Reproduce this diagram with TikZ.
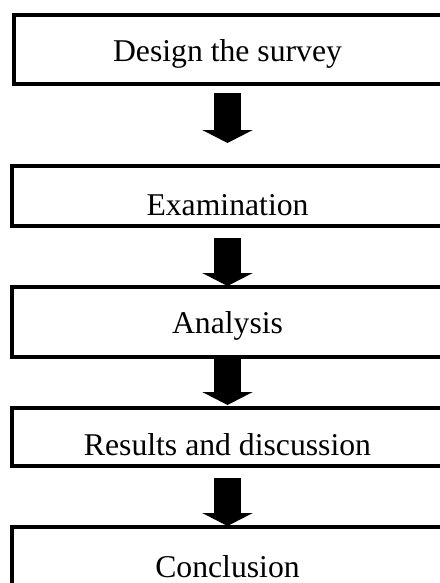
\documentclass[tikz,border=0pt]{standalone}
\usepackage{fontspec}
\setmainfont{Liberation Serif}
\usetikzlibrary{arrows.meta,positioning}

\begin{document}
\begin{tikzpicture}[
            x=1pt,y=1pt,
            stepbox/.style={draw,rectangle,line width=4pt,outer sep=0pt,inner sep=0pt,minimum width=432pt,text depth=0pt,font=\fontsize{31.7pt}{38pt}\selectfont},
            blockarrow/.style={draw,line width=27pt,-{Triangle[width=50pt,length=13pt]}}
          ]
          \useasboundingbox (0,0) rectangle (439,-583);

          %steps
          \node[stepbox,minimum width=428pt,minimum height=69.5pt,text height=24.5pt] (design) at (227.5,-49.75) {Design the survey};
          \node[stepbox,below=81.5pt of design,minimum height=59.5pt,text height=38.5pt] (exam) {Examination};
          \node[stepbox,below=61.5pt of exam,minimum height=70pt,text height=22pt] (analysis) {Analysis};
          \node[stepbox,below=50.5pt of analysis,minimum height=58.5pt,text height=36.5pt] (results) {Results and discussion};
          \node[stepbox,below=61pt of results,minimum height=70pt,text height=30pt] (concl) {Conclusion};

          %arrows
          \path
          ([yshift=-8.5pt]design.south) edge[blockarrow] ([yshift=23pt]exam.north)
          ([yshift=-12.5pt]exam.south) edge[blockarrow] ([yshift=1pt]analysis.north)
          (analysis.south) edge[blockarrow] ([yshift=2.5pt]results.north)
          ([yshift=-12pt]results.south) edge[blockarrow] ([yshift=1pt]concl.north)
          ;

\end{tikzpicture}
\end{document}
